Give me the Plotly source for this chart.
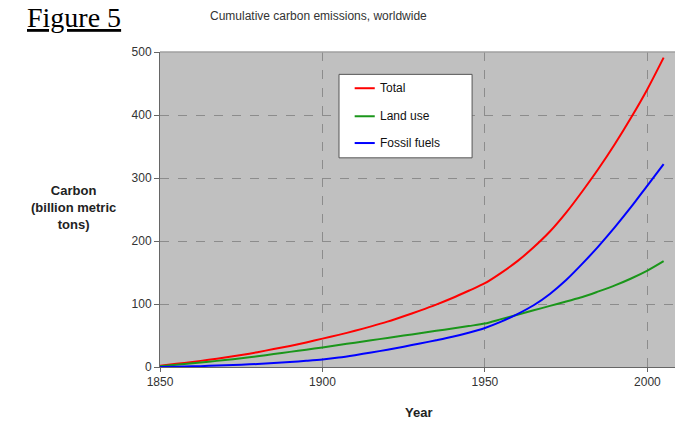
import plotly.graph_objects as go

years = [1850, 1855, 1860, 1865, 1870, 1875, 1880, 1885, 1890, 1895, 1900, 1905, 1910, 1915,
         1920, 1925, 1930, 1935, 1940, 1945, 1950, 1955, 1960, 1965, 1970, 1975, 1980, 1985,
         1990, 1995, 2000, 2005]
total = [2, 5, 8, 11.5, 15, 19, 23.5, 28.5, 33.5, 39, 45, 51, 57.5, 64.5, 72, 80.5, 89.5, 99, 109.5, 121,
         133, 149.5, 168, 190, 215, 245, 279, 315, 354, 396, 441, 491]
land_use = [1, 3.5, 6, 8.5, 11, 14, 17, 20.5, 24, 27.5, 31, 35, 38.5, 42.5, 46, 50, 53.5, 57.5,
            61, 65, 69, 76, 83, 90, 97, 104, 111, 120, 129.5, 140.5, 153, 168]
fossil = [0, 0.5, 1, 1.8, 2.7, 3.7, 4.8, 6.2, 7.8, 9.8, 12, 15, 18.8, 23, 27.5, 32.3, 37.3, 42.5, 48, 54.5, 62,
          72, 84, 98, 116, 138, 164, 192, 222, 254, 288, 322]

series_names = ["Total", "Land use", "Fossil fuels"]
series_colors = ["#ff0000", "#1a961a", "#0000ff"]
x_ticks = [1850, 1900, 1950, 2000]
y_ticks = [0, 100, 200, 300, 400, 500]

fig = go.Figure()
for name, vals, col in zip(series_names, [total, land_use, fossil], series_colors):
    fig.add_trace(go.Scatter(x=years, y=vals, mode="lines", name=name,
                             line=dict(color=col, width=2, shape="spline", smoothing=0.8)))

tickfont = dict(family="Liberation Sans, Arial", size=12, color="#333333")
fig.update_layout(
    width=675, height=421,
    margin=dict(l=160, r=0, t=52, b=54),
    paper_bgcolor="white", plot_bgcolor="#c0c0c0",
    showlegend=False,
    xaxis=dict(range=[1850, 2008.5], tickvals=x_ticks, ticks="outside", ticklen=4,
               tickcolor="#666666", showline=True, linecolor="#666666", linewidth=1,
               showgrid=True, gridcolor="#8c8c8c", griddash="dash", gridwidth=1,
               zeroline=False, tickfont=tickfont, mirror=False),
    yaxis=dict(range=[0, 500], tickvals=y_ticks, ticks="outside", ticklen=5,
               tickcolor="#666666", showline=True, linecolor="#666666", linewidth=1,
               showgrid=True, gridcolor="#8c8c8c", griddash="dash", gridwidth=1,
               zeroline=False, tickfont=tickfont),
)

# top border of plot area
fig.add_shape(type="line", xref="paper", yref="paper", x0=0, x1=1, y0=1, y1=1,
              line=dict(color="#a0a0a0", width=1.5))

# Titles
fig.add_annotation(text="<u>Figure 5</u>", xref="paper", yref="paper",
                   x=-0.262, y=1.108, xanchor="left", yanchor="middle", showarrow=False,
                   font=dict(family="Liberation Serif, DejaVu Serif", size=28, color="black"))
fig.add_annotation(text="Cumulative carbon emissions, worldwide", xref="paper", yref="paper",
                   x=0.307, y=1.115, xanchor="center", yanchor="middle", showarrow=False,
                   font=dict(family="Liberation Sans, Arial", size=12, color="#333333"))
fig.add_annotation(text="<b>Carbon<br>(billion metric<br>tons)</b>", xref="paper", yref="paper",
                   x=-0.168, y=0.505, xanchor="center", yanchor="middle", showarrow=False,
                   align="center",
                   font=dict(family="Liberation Sans, Arial", size=13, color="#222222"))
fig.add_annotation(text="<b>Year</b>", xref="paper", yref="paper",
                   x=0.501, y=-0.143, xanchor="center", yanchor="middle", showarrow=False,
                   font=dict(family="Liberation Sans, Arial", size=13, color="#222222"))

# Manual legend box
lx0, lx1, ly0, ly1 = 0.3476, 0.606, 0.664, 0.929
fig.add_shape(type="rect", xref="paper", yref="paper", x0=lx0, x1=lx1, y0=ly0, y1=ly1,
              fillcolor="white", line=dict(color="#555555", width=1))
leg_y = [0.885, 0.796, 0.711]
for name, col, yy in zip(series_names, series_colors, leg_y):
    fig.add_shape(type="line", xref="paper", yref="paper", x0=0.378, x1=0.417, y0=yy, y1=yy,
                  line=dict(color=col, width=2))
    fig.add_annotation(text=name, xref="paper", yref="paper", x=0.423, y=yy,
                       xanchor="left", yanchor="middle", showarrow=False,
                       font=dict(family="Liberation Sans, Arial", size=12, color="#111111"))

fig.write_html("out.html", config={"displayModeBar": False},
               post_script="document.body.style.margin='0';document.body.style.overflow='hidden';")
